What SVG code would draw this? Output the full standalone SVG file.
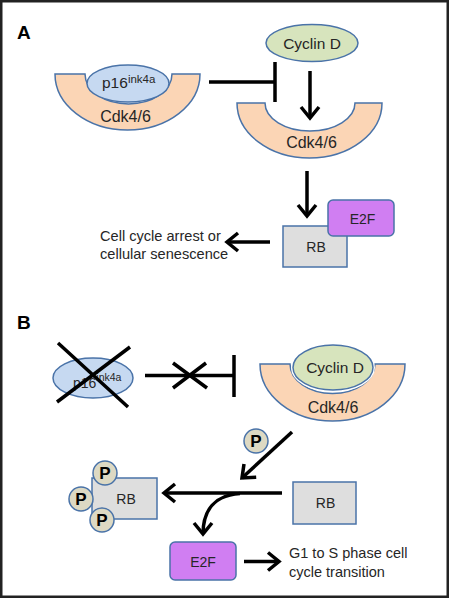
<svg xmlns="http://www.w3.org/2000/svg" width="450" height="599" viewBox="0 0 450 599">
<defs>
<marker id="arr" markerUnits="userSpaceOnUse" viewBox="-15 -15 30 30" markerWidth="30" markerHeight="30" refX="0" refY="0" orient="auto" overflow="visible">
<path d="M -11 -9 L 0 0 L -11 9" fill="none" stroke="#000" stroke-width="3.5" stroke-linejoin="miter"/>
</marker>
<style>
.t{font-family:"Liberation Sans",Arial,sans-serif;fill:#262626}
.c{text-anchor:middle}
.bowl{fill:#fbd5b5;stroke:#4a73a8;stroke-width:1.5}
.p16{fill:#c6d9f1;stroke:#4a73a8;stroke-width:1.5}
.cyc{fill:#d7e4bd;stroke:#4a73a8;stroke-width:1.5}
.rb{fill:#dedede;stroke:#4a73a8;stroke-width:1.5}
.e2f{fill:#d07ef2;stroke:#4a73a8;stroke-width:1.5}
.pc{fill:#ddd9c3;stroke:#4a73a8;stroke-width:1.5}
.ln{fill:none;stroke:#000;stroke-width:3.5}
.ar{fill:none;stroke:#000;stroke-width:3.5;marker-end:url(#arr)}
.lbl{font-family:"Liberation Sans",Arial,sans-serif;font-weight:bold;font-size:19px;fill:#000}
.pt{font-family:"Liberation Sans",Arial,sans-serif;font-weight:bold;font-size:17px;fill:#000;text-anchor:middle}
</style>
</defs>
<rect x="1.25" y="1.25" width="446.5" height="595.5" fill="#fff" stroke="#222" stroke-width="2.5"/>

<text class="lbl" x="17" y="39">A</text>
<text class="lbl" x="17" y="329">B</text>

<!-- Panel A -->
<g id="a-cdk-p16">
<path class="bowl" d="M 55 74 A 72.5 56 0 0 0 200 74 L 172 74 A 43.5 30 0 0 1 85 74 Z"/>
<text class="t c" x="125.5" y="122" font-size="16">Cdk4/6</text>
</g>
<g id="a-p16">
<ellipse class="p16" cx="128" cy="83.5" rx="41" ry="18.5"/>
<text class="t" x="102" y="88" font-size="15.5">p16<tspan font-size="11.5" dy="-5">ink4a</tspan></text>
</g>
<g id="a-cyclinD">
<ellipse class="cyc" cx="312" cy="43" rx="46" ry="18.5"/>
<text class="t c" x="312" y="48.5" font-size="15.5">Cyclin D</text>
</g>
<g id="a-cdk">
<path class="bowl" d="M 237 103 A 72.5 55 0 0 0 382 103 L 355 103 A 45 28 0 0 1 265 103 Z"/>
<text class="t c" x="311.5" y="148" font-size="16">Cdk4/6</text>
</g>
<g id="a-rb">
<rect class="rb" x="283" y="226" width="64" height="41"/>
<text class="t c" x="316" y="252" font-size="14">RB</text>
</g>
<g id="a-e2f">
<rect class="e2f" x="328" y="200" width="66" height="36" rx="5"/>
<text class="t c" x="362.5" y="224" font-size="14">E2F</text>
</g>
<g id="a-outcome">
<text class="t" x="100" y="240.5" font-size="14.6">Cell cycle arrest or</text>
<text class="t" x="100" y="259" font-size="14.6">cellular senescence</text>
</g>

<!-- Panel B -->
<g id="b-p16">
<ellipse class="p16" cx="93" cy="378" rx="40" ry="20"/>
<text class="t" x="73" y="388" font-size="14">p16<tspan font-size="10.5" dy="-7">ink4a</tspan></text>
</g>
<g id="b-cdk-cyclin">
<path class="bowl" d="M 260 364 A 72.5 57 0 0 0 405 364 L 375 364 A 42.5 29.5 0 0 1 290 364 Z"/>
<ellipse cx="333" cy="367.5" rx="40" ry="22.5" fill="none" stroke="#fff" stroke-width="4"/>
<ellipse class="cyc" cx="333" cy="367.5" rx="40" ry="22.5"/>
<text class="t c" x="335" y="373" font-size="15.5">Cyclin D</text>
<text class="t c" x="333" y="413" font-size="16">Cdk4/6</text>
</g>
<g id="b-p">
<circle class="pc" cx="256" cy="441" r="12"/>
<text class="pt" x="256" y="447">P</text>
</g>
<g id="b-rb-p">
<rect class="rb" x="92" y="478" width="65" height="41"/>
<text class="t c" x="126" y="504" font-size="14">RB</text>
<circle class="pc" cx="105" cy="473" r="12"/>
<text class="pt" x="105" y="479">P</text>
<circle class="pc" cx="81" cy="499" r="12"/>
<text class="pt" x="81" y="505">P</text>
<circle class="pc" cx="102" cy="520" r="12"/>
<text class="pt" x="102" y="526">P</text>
</g>
<g id="b-rb">
<rect class="rb" x="293" y="482" width="63" height="42"/>
<text class="t c" x="325.5" y="508" font-size="14">RB</text>
</g>
<g id="b-e2f">
<rect class="e2f" x="170" y="542" width="66" height="38" rx="5"/>
<text class="t c" x="203" y="567" font-size="14">E2F</text>
</g>
<g id="b-outcome">
<text class="t" x="289" y="558" font-size="14.5">G1 to S phase cell</text>
<text class="t" x="289" y="577" font-size="14.5">cycle transition</text>
</g>

<g id="connectors">
<path class="ln" d="M 209 82 H 275 M 275 62 V 102"/>
<path class="ar" d="M 310 71 V 118"/>
<path class="ar" d="M 307 171 V 216"/>
<path class="ar" d="M 270 242 H 227"/>
<path class="ln" d="M 58 343 L 128 407 M 130 347 L 57 402"/>
<path class="ln" d="M 145 375.5 H 234 M 234 355 V 397"/>
<path class="ln" d="M 173 363 L 207 388 M 173 388 L 206 363"/>
<path class="ar" d="M 292 432 L 242 478"/>
<path class="ar" d="M 282 493 H 164"/>
<path class="ar" d="M 240 493.5 C 215 495 203 510 203 534"/>
<path class="ar" d="M 244 561.5 H 279"/>
</g>
</svg>
